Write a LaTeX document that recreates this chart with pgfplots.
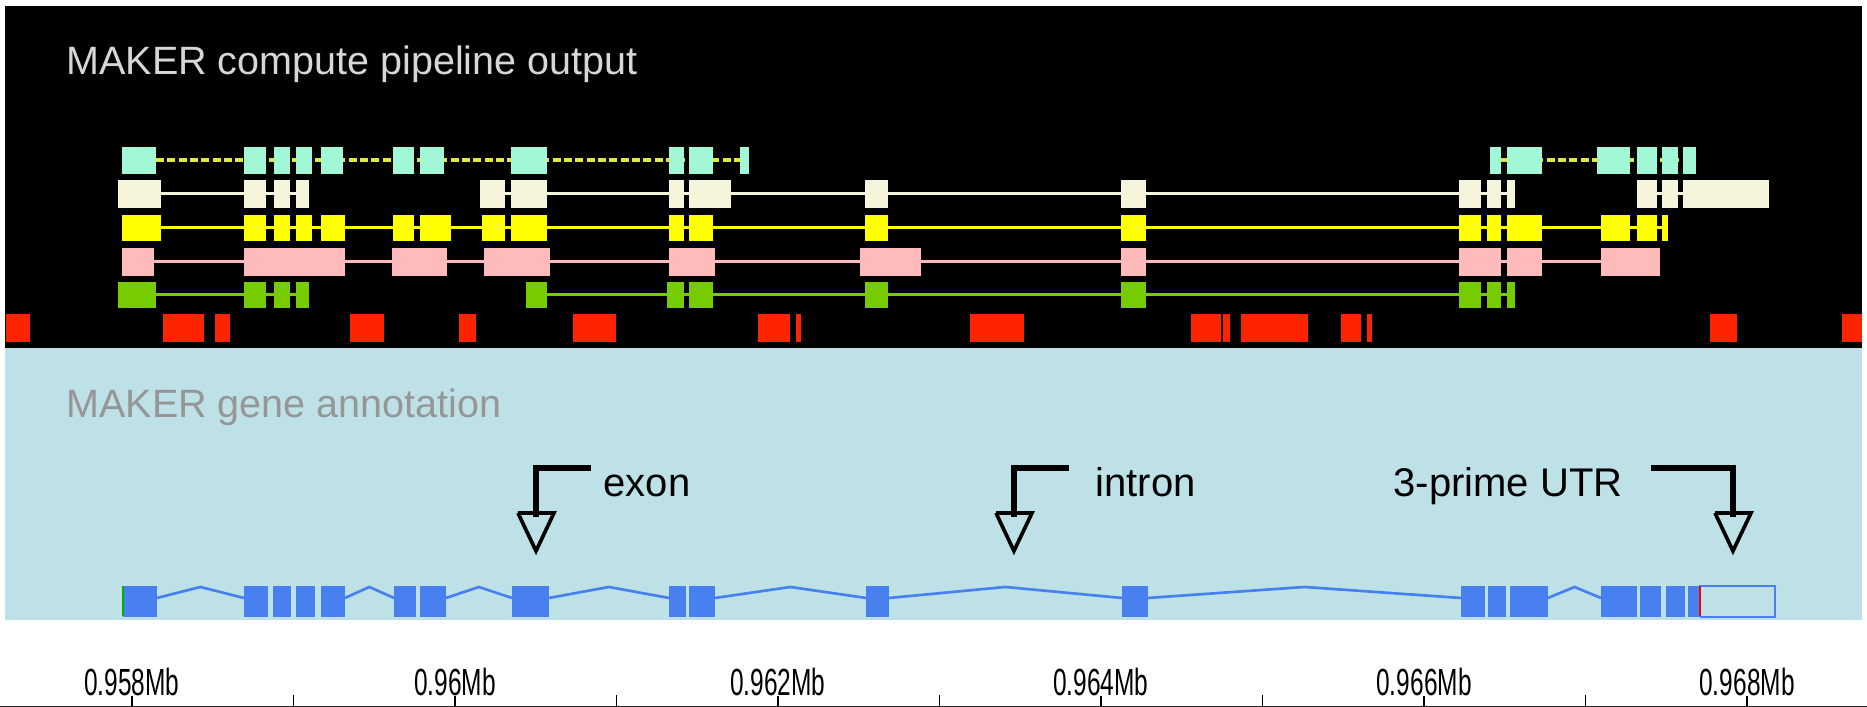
\documentclass[border=0pt]{standalone}
\usepackage{pgfplots}
\pgfplotsset{compat=1.18}
\usepackage{pgfplotstable}
\usepackage{graphicx}
\usepackage{fontspec}
\setmainfont{Liberation Sans}

\definecolor{cyanc}{RGB}{162,248,214}
\definecolor{creamc}{RGB}{245,245,220}
\definecolor{yellowc}{RGB}{255,255,0}
\definecolor{pinkc}{RGB}{255,187,187}
\definecolor{greenc}{RGB}{119,204,0}
\definecolor{redc}{RGB}{255,36,0}
\definecolor{bgblue}{RGB}{189,225,230}
\definecolor{geneblue}{RGB}{72,128,240}
\definecolor{dashy}{RGB}{225,232,60}
\definecolor{titlegray}{RGB}{215,215,215}
\definecolor{annogray}{RGB}{150,150,150}

\newcommand\tl[1]{\scalebox{0.68}[1.05]{#1}}

\pgfplotsset{
  boxrow/.style 2 args={only marks, mark=*, mark size=0pt,
    mark options={draw opacity=0, fill opacity=0}, forget plot,
    error bars/.cd, x dir=plus, x explicit, error mark=none,
    error bar style={line width=#2, draw=#1, line cap=butt, draw opacity=1}},
}

% exon boxes, start and end in kb
\pgfplotstableread{
s e
957.938 958.149
958.693 958.830
958.879 958.978
959.015 959.115
959.170 959.307
959.616 959.746
959.783 959.932
960.347 960.570
961.325 961.418
961.449 961.598
961.765 961.820
966.409 966.477
966.514 966.731
967.071 967.276
967.319 967.443
967.474 967.573
967.604 967.684
}\cyanT

\pgfplotstableread{
s e
957.913 958.180
958.693 958.830
958.879 958.978
959.015 959.096
960.155 960.310
960.347 960.570
961.325 961.418
961.449 961.709
962.539 962.681
964.124 964.279
966.217 966.353
966.390 966.477
966.514 966.563
967.319 967.443
967.474 967.573
967.604 968.136
}\creamT

\pgfplotstableread{
s e
957.938 958.180
958.693 958.830
958.879 958.978
959.015 959.115
959.170 959.319
959.616 959.746
959.783 959.975
960.167 960.310
960.347 960.570
961.325 961.418
961.449 961.598
962.539 962.681
964.124 964.279
966.217 966.353
966.390 966.477
966.514 966.731
967.096 967.276
967.319 967.443
967.474 967.511
}\yellowT

\pgfplotstableread{
s e
957.938 958.136
958.693 959.319
959.610 959.950
960.180 960.588
961.325 961.610
962.508 962.885
964.124 964.279
966.217 966.477
966.514 966.731
967.096 967.461
}\pinkT

\pgfplotstableread{
s e
957.913 958.149
958.693 958.830
958.879 958.978
959.015 959.096
960.440 960.570
961.313 961.418
961.449 961.598
962.539 962.681
964.124 964.279
966.217 966.353
966.390 966.477
966.514 966.563
}\greenT

\pgfplotstableread{
s e
957.220 957.368
958.192 958.446
958.514 958.607
959.350 959.560
960.025 960.130
960.731 960.997
961.876 962.074
962.111 962.142
963.189 963.523
964.557 964.743
964.755 964.799
964.867 965.282
965.486 965.610
965.647 965.678
967.771 967.938
968.588 968.712
}\redT

\pgfplotstableread{
s e
957.944 958.155
958.693 958.842
958.873 958.985
959.015 959.133
959.170 959.319
959.622 959.759
959.783 959.944
960.353 960.582
961.325 961.430
961.449 961.610
962.545 962.687
964.130 964.291
966.229 966.378
966.396 966.508
966.533 966.768
967.096 967.319
967.337 967.467
967.498 967.616
967.635 967.709
}\geneT

\begin{document}
\begin{tikzpicture}
\begin{axis}[
  width=560.1pt, height=212.1pt, scale only axis,
  xmin=957.183, xmax=968.743, ymin=0, ymax=707,
  axis x line*=bottom, axis y line=none, ytick=\empty,
  xtick={958,960,962,964,966,968},
  minor xtick={959,961,963,965,967},
  xticklabels={\tl{0.958Mb},\tl{0.96Mb},\tl{0.962Mb},\tl{0.964Mb},\tl{0.966Mb},\tl{0.968Mb}},
  xticklabel style={anchor=south, inner sep=0pt, yshift=3pt, font=\fontsize{10.8}{12}\selectfont},
  tick align=inside, major tick length=3.3pt, minor tick length=3.6pt,
  major tick style={black, line width=0.35pt},
  minor tick style={black, line width=0.35pt},
  axis line style={draw=black!85, line width=0.4pt},
  clip=false,
]
% panels
\addplot[fill=black, draw=none, forget plot] coordinates {(957.214,359) (968.712,359) (968.712,701) (957.214,701)};
\addplot[fill=bgblue, draw=none, forget plot] coordinates {(957.214,87) (968.712,87) (968.712,359) (957.214,359)};

% intron lines
\addplot[draw=dashy, line width=1.2pt, dash pattern=on 2.4pt off 1pt, unbounded coords=jump, forget plot]
  coordinates {(957.938,547) (961.820,547) (nan,nan) (966.409,547) (967.684,547)};
\addplot[draw=creamc, line width=0.9pt, unbounded coords=jump, forget plot]
  coordinates {(957.913,513) (959.096,513) (nan,nan) (960.155,513) (966.563,513) (nan,nan) (967.319,513) (968.136,513)};
\addplot[draw=yellowc, line width=0.9pt, forget plot]
  coordinates {(957.938,479) (967.511,479)};
\addplot[draw=pinkc, line width=0.9pt, forget plot]
  coordinates {(957.938,445) (967.461,445)};
\addplot[draw=greenc, line width=0.9pt, unbounded coords=jump, forget plot]
  coordinates {(957.913,412) (959.096,412) (nan,nan) (960.440,412) (966.563,412)};

% exon boxes
\addplot[boxrow={cyanc}{8.1pt}] table[x=s, y expr=546.5, x error expr=\thisrow{e}-\thisrow{s}] {\cyanT};
\addplot[boxrow={creamc}{8.4pt}] table[x=s, y expr=513, x error expr=\thisrow{e}-\thisrow{s}] {\creamT};
\addplot[boxrow={yellowc}{7.8pt}] table[x=s, y expr=479, x error expr=\thisrow{e}-\thisrow{s}] {\yellowT};
\addplot[boxrow={pinkc}{8.4pt}] table[x=s, y expr=445, x error expr=\thisrow{e}-\thisrow{s}] {\pinkT};
\addplot[boxrow={greenc}{7.8pt}] table[x=s, y expr=412, x error expr=\thisrow{e}-\thisrow{s}] {\greenT};
\addplot[boxrow={redc}{8.4pt}] table[x=s, y expr=379, x error expr=\thisrow{e}-\thisrow{s}] {\redT};

% gene model
\addplot[draw=geneblue, line width=0.8pt, unbounded coords=jump, forget plot] coordinates {
 (958.155,109) (958.424,120) (958.693,109) (nan,nan)
 (959.319,109) (959.470,120) (959.622,109) (nan,nan)
 (959.944,109) (960.148,120) (960.353,109) (nan,nan)
 (960.582,109) (960.953,120) (961.325,109) (nan,nan)
 (961.610,109) (962.077,120) (962.545,109) (nan,nan)
 (962.687,109) (963.408,120) (964.130,109) (nan,nan)
 (964.291,109) (965.260,120) (966.229,109) (nan,nan)
 (966.768,109) (966.932,120) (967.096,109)};
\addplot[boxrow={geneblue}{9.3pt}] table[x=s, y expr=105.5, x error expr=\thisrow{e}-\thisrow{s}] {\geneT};
\addplot[draw=geneblue, line width=0.6pt, forget plot] coordinates {(967.709,90.3) (968.173,90.3) (968.173,120.7) (967.709,120.7) (967.709,90.3)};
\addplot[draw=red, line width=0.4pt, forget plot] coordinates {(967.709,90.5) (967.709,120.5)};
\addplot[draw=green!70!black, line width=0.4pt, forget plot] coordinates {(957.944,90.5) (957.944,120.5)};

% annotation arrows
\addplot[draw=black, line width=1.8pt, line join=miter, forget plot] coordinates {(960.842,239) (960.502,239) (960.502,190)};
\addplot[draw=black, line width=1.1pt, line join=miter, forget plot] coordinates {(960.390,194) (960.613,194) (960.502,156) (960.390,194)};
\addplot[draw=black, line width=1.8pt, line join=miter, forget plot] coordinates {(963.802,239) (963.461,239) (963.461,190)};
\addplot[draw=black, line width=1.1pt, line join=miter, forget plot] coordinates {(963.350,194) (963.573,194) (963.461,156) (963.350,194)};
\addplot[draw=black, line width=1.8pt, line join=miter, forget plot] coordinates {(967.406,239) (967.913,239) (967.913,190)};
\addplot[draw=black, line width=1.1pt, line join=miter, forget plot] coordinates {(967.802,194) (968.025,194) (967.913,156) (967.802,194)};

% texts
\node[anchor=base west, inner sep=0pt, text=titlegray, font=\fontsize{11.85}{14}\selectfont] at (axis cs:957.591,632) {MAKER compute pipeline output};
\node[anchor=base west, inner sep=0pt, text=annogray, font=\fontsize{11.85}{14}\selectfont] at (axis cs:957.591,289) {MAKER gene annotation};
\node[anchor=base west, inner sep=0pt, text=black, font=\fontsize{12}{14}\selectfont] at (axis cs:960.916,210) {exon};
\node[anchor=base west, inner sep=0pt, text=black, font=\fontsize{12}{14}\selectfont] at (axis cs:963.963,210) {intron};
\node[anchor=base west, inner sep=0pt, text=black, font=\fontsize{12}{14}\selectfont] at (axis cs:965.808,210) {3-prime UTR};
\end{axis}
\pgfresetboundingbox
\path[use as bounding box] (current axis.south west) rectangle (current axis.north east);
\end{tikzpicture}
\end{document}
